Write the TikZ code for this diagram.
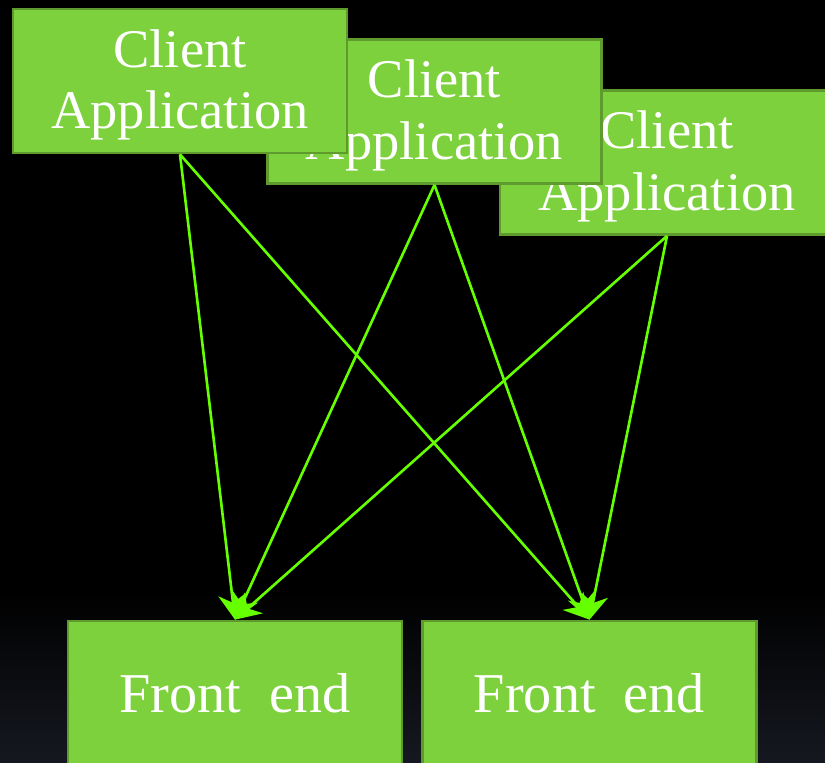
\documentclass[tikz,border=0pt]{standalone}
\usepackage{fontspec}
\setmainfont{Liberation Serif}
\usetikzlibrary{arrows.meta}
\definecolor{boxfill}{HTML}{7DD13C}
\definecolor{boxline}{HTML}{5E9A2C}
\definecolor{wire}{HTML}{66FF00}
\definecolor{floor}{HTML}{151820}
\tikzset{
  app/.style={draw=boxline, fill=boxfill, line width=1.6pt, minimum width=6.68cm,
    minimum height=2.88cm, align=center, text=white, font=\fontsize{31}{35}\selectfont},
  fe/.style={app, font=\fontsize{32}{38}\selectfont},
  link/.style={draw=wire, line width=1.5pt, -{Stealth[length=5mm,width=5.5mm]}},
}
% push the two-line label a little down in its box
\newcommand{\applabel}{\rule{0pt}{26pt}Client\\Application}

\begin{document}
\begin{tikzpicture}[x=0.02cm, y=-0.02cm]
  \useasboundingbox (0,0) rectangle (825,762);
  \clip (0,0) rectangle (825,762);
  % dark backdrop, slightly lighter near the floor
  \fill[black] (0,0) rectangle (825,762);
  \shade[top color=black, bottom color=floor] (0,590) rectangle (825,762);

  % clients, back to front
  \node[app] (c3) at (667,162.5) {\applabel};
  \node[app] (c2) at (434.5,111.5) {\applabel};
  \node[app] (c1) at (180,81) {\applabel};

  \node[fe] (f1) at (235,693) {Front\ \ end};
  \node[fe] (f2) at (589.5,693) {Front\ \ end};

  \draw[link] (c1.south) -- (f1.north);
  \draw[link] (c1.south) -- (f2.north);
  \draw[link] (c2.south) -- (f1.north);
  \draw[link] (c2.south) -- (f2.north);
  \draw[link] (c3.south) -- (f1.north);
  \draw[link] (c3.south) -- (f2.north);
\end{tikzpicture}
\end{document}
